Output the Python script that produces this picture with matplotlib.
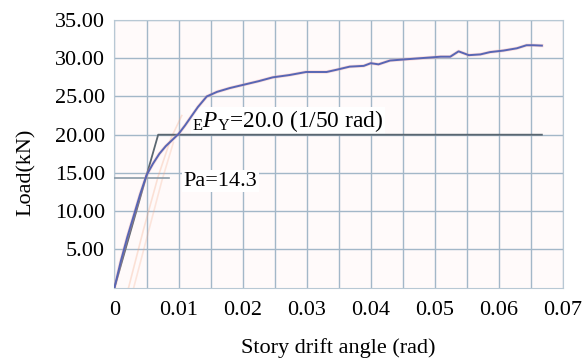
import matplotlib.pyplot as plt
from matplotlib.ticker import MultipleLocator

plt.rcParams['font.family'] = ['Liberation Serif', 'DejaVu Serif']
plt.rcParams['mathtext.fontset'] = 'custom'
plt.rcParams['mathtext.rm'] = 'Liberation Serif'
plt.rcParams['mathtext.it'] = 'Liberation Serif:italic'

# envelope curve (story drift angle rad, load kN)
drift = [0, 0.001, 0.002, 0.003, 0.004, 0.005, 0.006, 0.007, 0.008, 0.009,
         0.010, 0.011, 0.012, 0.013, 0.0144, 0.016, 0.018, 0.020, 0.0225,
         0.0247, 0.0273, 0.0299, 0.0331, 0.0347, 0.0367, 0.0389, 0.040,
         0.0412, 0.043, 0.0477, 0.0509, 0.0524, 0.0537, 0.0553, 0.0571,
         0.0586, 0.0607, 0.0628, 0.0643, 0.0654, 0.0667]
load = [0, 3.5, 6.6, 9.4, 12.2, 14.7, 16.2, 17.5, 18.5, 19.3,
        20.1, 21.2, 22.4, 23.6, 25.0, 25.6, 26.1, 26.5, 27.0,
        27.5, 27.8, 28.2, 28.2, 28.5, 28.9, 29.0, 29.35,
        29.2, 29.7, 30.0, 30.2, 30.2, 30.9, 30.4, 30.5,
        30.8, 31.0, 31.3, 31.7, 31.7, 31.65]

# bilinear model
bi_x = [0, 0.00682, 0.0667]
bi_y = [0, 20.0, 20.0]

# faint reloading loops
loop1_x = [0.0022, 0.0045, 0.0068, 0.0088, 0.0105]
loop1_y = [0, 7.5, 14.5, 19.5, 22.5]
loop2_x = [0.0030, 0.0052, 0.0074, 0.0092]
loop2_y = [0, 7.0, 14.0, 19.0]

pa_x = [0, 0.0085]
pa_y = [14.3, 14.3]

fig = plt.figure(figsize=(5.88, 3.61), dpi=100)
ax = fig.add_axes([0.1947, 0.2033, 0.7628, 0.7413])
ax.set_facecolor('#fffafa')

ax.set_xlim(0, 0.07)
ax.set_ylim(0, 35)
ax.xaxis.set_major_locator(MultipleLocator(0.01))
ax.xaxis.set_minor_locator(MultipleLocator(0.005))
ax.yaxis.set_major_locator(MultipleLocator(5))
ax.grid(which='both', color='#a3b7c8', linewidth=1.0)
ax.set_axisbelow(True)
for s in ax.spines.values():
    s.set_color('#b8c8d4')
    s.set_linewidth(0.8)
ax.tick_params(which='both', length=0, labelsize=16, pad=7)
ax.tick_params(axis='x', pad=10)
ax.set_xticks([0, 0.01, 0.02, 0.03, 0.04, 0.05, 0.06, 0.07])
ax.set_xticklabels(['0', '0.01', '0.02', '0.03', '0.04', '0.05', '0.06', '0.07'])
ax.set_yticks([5, 10, 15, 20, 25, 30, 35])
ax.set_yticklabels(['5.00', '10.00', '15.00', '20.00', '25.00', '30.00', '35.00'])

ax.plot(loop1_x, loop1_y, color='#f4a582', linewidth=1.2, alpha=0.3, zorder=3)
ax.plot(loop2_x, loop2_y, color='#f4a582', linewidth=1.2, alpha=0.25, zorder=3)
ax.plot(pa_x, pa_y, color='#8a9aa8', linewidth=1.2, zorder=3)
ax.plot(bi_x, bi_y, color='#5a6670', linewidth=1.3, zorder=3)
ax.plot(drift, load, color='#f2a0a0', linewidth=2.4, alpha=0.35, zorder=3)
ax.plot(drift, load, color='#5866b4', linewidth=1.4, zorder=3)

ax.text(0.0121, 21.0, r'$_{\mathrm{E}}\mathit{P}_{\mathrm{Y}}$=20.0 (1/50 rad)',
        fontsize=16.8, va='baseline', ha='left', zorder=2.5,
        bbox=dict(facecolor='white', edgecolor='none', pad=1))
ax.text(0.0108, 13.9, 'Pa=14.3', fontsize=16, va='center', ha='left', zorder=2.5,
        bbox=dict(facecolor='white', edgecolor='none', pad=1))

ax.set_ylabel('Load(kN)', fontsize=16)
ax.yaxis.set_label_coords(-0.176, 0.432)
ax.set_xlabel('Story drift angle (rad)', fontsize=16, labelpad=13)

fig.savefig('out.png', dpi=100)
